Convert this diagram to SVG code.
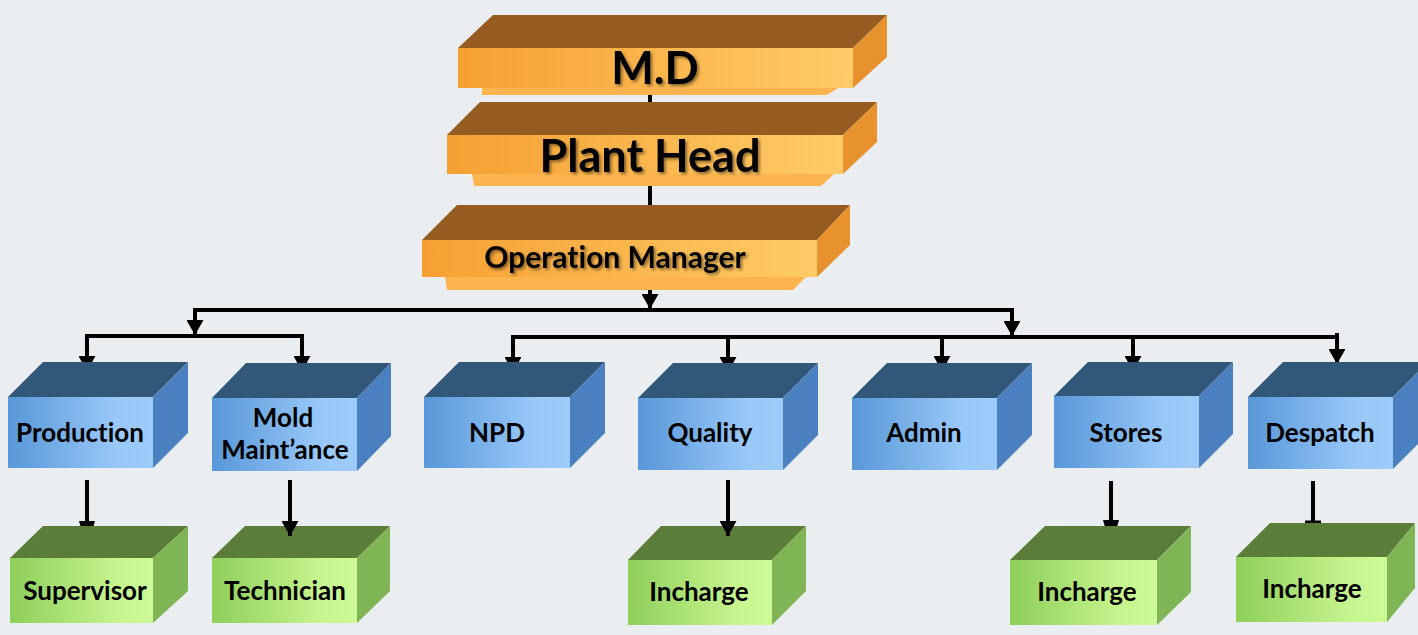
<svg xmlns="http://www.w3.org/2000/svg" width="1418" height="635" viewBox="0 0 1418 635">
<defs>
<linearGradient id="gOr" x1="0" y1="0" x2="1" y2="0"><stop offset="0" stop-color="#F6A033"/><stop offset="1" stop-color="#FFCB66"/></linearGradient>
<linearGradient id="gBl" x1="0" y1="0" x2="1" y2="0"><stop offset="0" stop-color="#5897D8"/><stop offset="0.75" stop-color="#98C8F8"/><stop offset="1" stop-color="#9DCCFA"/></linearGradient>
<linearGradient id="gGr" x1="0" y1="0" x2="1" y2="0"><stop offset="0" stop-color="#8ECF5A"/><stop offset="0.75" stop-color="#C6F48E"/><stop offset="1" stop-color="#CCFA96"/></linearGradient>
<filter id="sh" x="-10%" y="-20%" width="130%" height="160%"><feDropShadow dx="2" dy="2" stdDeviation="1.5" flood-color="#000" flood-opacity="0.45"/></filter>
<marker id="ah" viewBox="0 0 15 17" refX="15" refY="8.5" markerWidth="15" markerHeight="17" markerUnits="userSpaceOnUse" orient="auto"><path d="M0,0 L15,8.5 L0,17 z" fill="#000"/></marker>
</defs>
<style>
.or-top{fill:#965B21}.or-side{fill:#E8922E}.or-strip{fill:#FDB44F}
.bl-top{fill:#325879}.bl-side{fill:#4A80BF}.bl-front{fill:url(#gBl)}
.gr-top{fill:#5A7E3A}.gr-side{fill:#7FB554}.gr-front{fill:url(#gGr)}
.or-front{fill:url(#gOr)}
text{font-family:Lato,"Open Sans","Liberation Sans",sans-serif;font-weight:700;fill:#000;text-anchor:middle;font-variant-ligatures:none}
.big{filter:url(#sh)}
.lbl{font-size:26px}
.ln{stroke:#000;stroke-width:4;fill:none}
.arr{stroke:#000;stroke-width:4;fill:none;marker-end:url(#ah)}
</style>
<rect x="0" y="0" width="1418" height="635" fill="#EAEEF0"/>

<g id="connectors">
<line class="ln" x1="650" y1="88" x2="650" y2="103"/>
<line class="ln" x1="650" y1="185" x2="650" y2="206"/>
<line class="arr" x1="650" y1="289" x2="650" y2="309"/>
<line class="ln" x1="193" y1="310" x2="1014" y2="310"/>
<line class="arr" x1="195" y1="308" x2="195" y2="335"/>
<line class="ln" x1="85" y1="336" x2="304" y2="336"/>
<line class="arr" x1="87" y1="334" x2="87" y2="371"/>
<line class="arr" x1="302" y1="334" x2="302" y2="371"/>
<line class="arr" x1="1012" y1="308" x2="1012" y2="336"/>
<line class="ln" x1="511" y1="337" x2="1339" y2="337"/>
<line class="arr" x1="513" y1="335" x2="513" y2="372"/>
<line class="arr" x1="728" y1="335" x2="728" y2="372"/>
<line class="arr" x1="942" y1="335" x2="942" y2="371"/>
<line class="arr" x1="1133" y1="335" x2="1133" y2="371"/>
<line class="arr" x1="1337" y1="333" x2="1337" y2="364"/>
</g>

<g id="md">
<polygon class="or-strip" points="482,88 838,88 827,95 482,95"/>
<polygon class="or-top" points="458,48 493,15 887,15 853,48"/>
<rect class="or-front" x="458" y="48" width="395" height="40"/>
<polygon class="or-side" points="853,48 887,15 887,57 853,88"/>
<text class="big" x="655" y="84" font-size="45">M.D</text>
</g>

<g id="plant-head">
<polygon class="or-strip" points="472,174 834,174 821,186 474,186"/>
<polygon class="or-top" points="447,135 480,102 877,102 843,135"/>
<rect class="or-front" x="447" y="135" width="396" height="39"/>
<polygon class="or-side" points="843,135 877,102 877,142 843,174"/>
<text class="big" x="650" y="172" font-size="45">Plant Head</text>
</g>

<g id="operation-manager">
<polygon class="or-strip" points="445,277 806,277 793,290 447,290"/>
<polygon class="or-top" points="422,240 457,205 850,205 817,240"/>
<rect class="or-front" x="422" y="240" width="395" height="37"/>
<polygon class="or-side" points="817,240 850,205 850,245 817,277"/>
<text class="big" x="615" y="268" font-size="30">Operation Manager</text>
</g>

<g id="production">
<polygon class="bl-top" points="8,397 43,362 188,362 153,397"/>
<rect class="bl-front" x="8" y="397" width="145" height="71"/>
<polygon class="bl-side" points="153,397 188,362 188,433 153,468"/>
<text class="lbl" x="80" y="442">Production</text>
</g>

<g id="mold-maintance">
<polygon class="bl-top" points="212,398 246,363 391,363 357,398"/>
<rect class="bl-front" x="212" y="398" width="145" height="73"/>
<polygon class="bl-side" points="357,398 391,363 391,436 357,471"/>
<text class="lbl" x="283" y="427">Mold</text>
<text class="lbl" x="285" y="459">Maint’ance</text>
</g>

<g id="npd">
<polygon class="bl-top" points="424,397 459,362 605,362 570,397"/>
<rect class="bl-front" x="424" y="397" width="146" height="71"/>
<polygon class="bl-side" points="570,397 605,362 605,433 570,468"/>
<text class="lbl" x="497" y="442">NPD</text>
</g>

<g id="quality">
<polygon class="bl-top" points="638,398 673,363 818,363 783,398"/>
<rect class="bl-front" x="638" y="398" width="145" height="72"/>
<polygon class="bl-side" points="783,398 818,363 818,435 783,470"/>
<text class="lbl" x="710" y="442">Quality</text>
</g>

<g id="admin">
<polygon class="bl-top" points="852,398 887,363 1032,363 997,398"/>
<rect class="bl-front" x="852" y="398" width="145" height="72"/>
<polygon class="bl-side" points="997,398 1032,363 1032,435 997,470"/>
<text class="lbl" x="924" y="442">Admin</text>
</g>

<g id="stores">
<polygon class="bl-top" points="1054,396 1088,362 1233,362 1199,396"/>
<rect class="bl-front" x="1054" y="396" width="145" height="72"/>
<polygon class="bl-side" points="1199,396 1233,362 1233,434 1199,468"/>
<text class="lbl" x="1126" y="442">Stores</text>
</g>

<g id="despatch">
<polygon class="bl-top" points="1248,397 1283,362 1428,362 1393,397"/>
<rect class="bl-front" x="1248" y="397" width="145" height="72"/>
<polygon class="bl-side" points="1393,397 1428,362 1428,434 1393,469"/>
<text class="lbl" x="1320" y="442">Despatch</text>
</g>

<g id="connectors-lower">
<line class="ln" x1="87" y1="480" x2="87" y2="524"/>
<polygon points="79,521 95,521 93,528 81,528" fill="#000"/>
<line class="ln" x1="1111" y1="481" x2="1111" y2="523"/>
<polygon points="1103,520 1119,520 1117,527 1105,527" fill="#000"/>
<line class="ln" x1="1313" y1="481" x2="1313" y2="522"/>
<line x1="1305" y1="522" x2="1321" y2="522" stroke="#000" stroke-width="3"/>
</g>

<g id="supervisor">
<polygon class="gr-top" points="10,558 43,526 188,526 153,558"/>
<rect class="gr-front" x="10" y="558" width="143" height="65"/>
<polygon class="gr-side" points="153,558 188,526 188,591 153,623"/>
<text class="lbl" x="85" y="600">Supervisor</text>
</g>

<g id="technician">
<polygon class="gr-top" points="212,558 245,526 390,526 357,558"/>
<rect class="gr-front" x="212" y="558" width="145" height="65"/>
<polygon class="gr-side" points="357,558 390,526 390,591 357,623"/>
<text class="lbl" x="285" y="600">Technician</text>
</g>

<g id="quality-incharge">
<polygon class="gr-top" points="628,560 661,526 806,526 772,560"/>
<rect class="gr-front" x="628" y="560" width="144" height="65"/>
<polygon class="gr-side" points="772,560 806,526 806,591 772,625"/>
<text class="lbl" x="699" y="601">Incharge</text>
</g>

<g id="stores-incharge">
<polygon class="gr-top" points="1010,560 1045,526 1191,526 1157,560"/>
<rect class="gr-front" x="1010" y="560" width="147" height="65"/>
<polygon class="gr-side" points="1157,560 1191,526 1191,592 1157,625"/>
<text class="lbl" x="1087" y="601">Incharge</text>
</g>

<g id="despatch-incharge">
<polygon class="gr-top" points="1236,557 1270,523 1415,523 1387,557"/>
<rect class="gr-front" x="1236" y="557" width="151" height="65"/>
<polygon class="gr-side" points="1387,557 1415,523 1415,588 1387,622"/>
<text class="lbl" x="1312" y="598">Incharge</text>
</g>

<g id="connectors-over">
<line class="arr" x1="290" y1="480" x2="290" y2="536"/>
<line class="arr" x1="728" y1="480" x2="728" y2="536"/>
</g>
</svg>
